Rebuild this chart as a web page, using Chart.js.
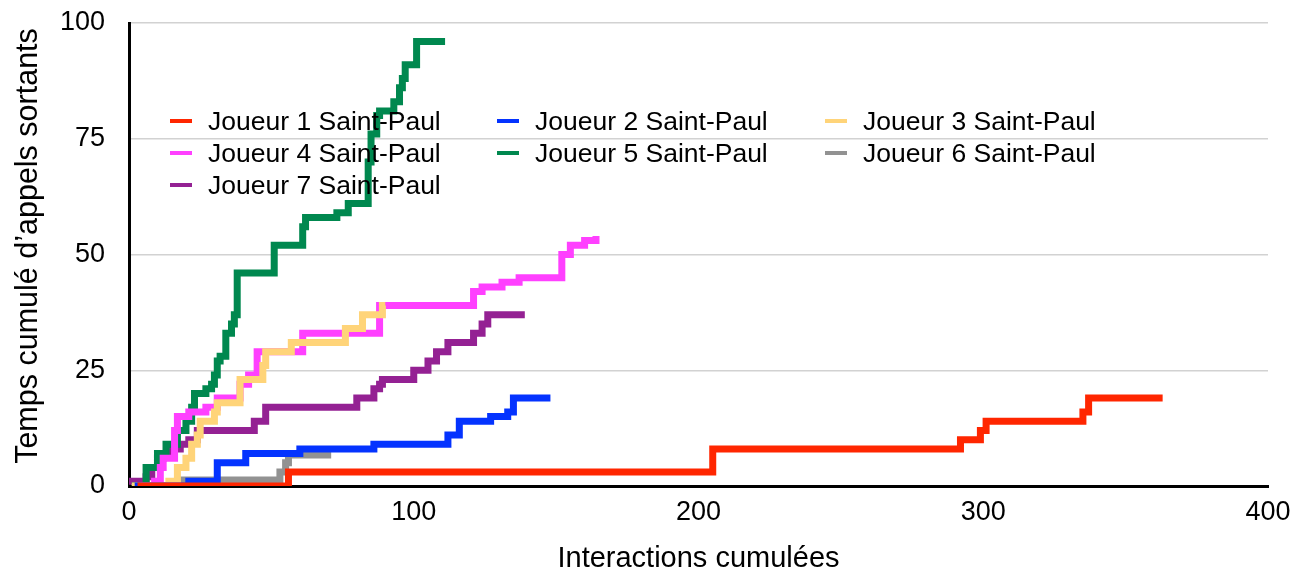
<!DOCTYPE html>
<html>
<head>
<meta charset="utf-8">
<script src="https://cdn.jsdelivr.net/npm/chart.js@4.4.1/dist/chart.umd.min.js"></script>
<style>
  html, body { margin: 0; padding: 0; background: #fff; }
  #wrap { width: 1291px; height: 573px; position: relative; }
</style>
</head>
<body>
<div id="wrap"><canvas id="c" width="1291" height="573"></canvas></div>
<script>
// ---- data (change points: at x the cumulative value becomes y) ----
const labels = ["Joueur 1 Saint-Paul", "Joueur 2 Saint-Paul", "Joueur 3 Saint-Paul",
                "Joueur 4 Saint-Paul", "Joueur 5 Saint-Paul", "Joueur 6 Saint-Paul",
                "Joueur 7 Saint-Paul"];

const j1X = [3, 56, 205, 292, 299, 301, 335, 337, 363];
const j1Y = [0, 3, 8, 10, 12, 14, 16, 19, 19];

const j2X = [2, 21, 31, 41, 60, 86, 112, 116, 127, 133, 135, 148];
const j2Y = [0, 1, 5, 7, 8, 9, 11, 14, 15, 16, 19, 19];

const j3X = [1, 14, 17, 20, 22, 24, 25, 30, 31, 39, 47, 48, 57, 76, 82, 89, 90];
const j3Y = [0, 1, 4, 6, 9, 11, 14, 16, 18, 23, 26, 29, 31, 34, 37, 39, 39];

const j4X = [4, 9, 11, 12, 16, 17, 21, 27, 31, 39, 42, 45, 61, 88, 121, 124, 131, 137, 152, 155, 160, 164];
const j4Y = [0, 1, 4, 6, 12, 15, 16, 17, 19, 22, 24, 29, 33, 39, 42, 43, 44, 45, 50, 52, 53, 54];

const j5X = [1, 6, 10, 13, 17, 20, 22, 23, 27, 29, 30, 31, 32, 34, 36, 37, 38, 51, 61, 62, 73, 77, 84, 85, 87, 88, 93, 95, 96, 97, 101, 111];
const j5Y = [0, 4, 7, 9, 12, 14, 17, 20, 21, 22, 24, 27, 28, 33, 35, 37, 46, 52, 56, 58, 59, 61, 70, 76, 80, 81, 83, 86, 88, 91, 96, 96];

const j6X = [1, 18, 53, 55, 56, 71];
const j6Y = [0, 1.3, 3, 5, 6.7, 6.7];

const j7X = [0, 6, 8, 10, 12, 15, 18, 21, 24, 44, 48, 80, 86, 88, 89, 100, 105, 108, 112, 121, 124, 126, 139];
const j7Y = [1, 2, 4, 6, 7, 8, 9, 10, 12, 14, 17, 19, 21, 22, 23, 25, 27, 29, 31, 33, 35, 37, 37];

const xTicks = [0, 100, 200, 300, 400];
const yTicks = [0, 25, 50, 75, 100];

const xTitle = 'Interactions cumulées';
const yTitle = 'Temps cumulé d’appels sortants';

const seriesX = [j1X, j2X, j3X, j4X, j5X, j6X, j7X];
const seriesY = [j1Y, j2Y, j3Y, j4Y, j5Y, j6Y, j7Y];
const colors = ["#FF2600", "#0433FF", "#FFD479", "#FF40FF", "#00884F", "#929292", "#942193"];

const FONT = "'Liberation Sans', Arial, Helvetica, sans-serif";

const datasets = labels.map((lab, i) => ({
  label: lab,
  data: seriesX[i].map((x, k) => ({ x: x, y: seriesY[i][k] })),
  borderColor: colors[i],
  backgroundColor: colors[i],
  borderWidth: 7,
  pointRadius: 0,
  pointHoverRadius: 0,
  stepped: true,
  fill: false,
  borderJoinStyle: 'miter',
  borderCapStyle: 'butt'
}));

const legendPlugin = {
  id: 'insideLegend',
  afterDatasetsDraw(chart) {
    const ctx = chart.ctx;
    const cols = [170, 497, 825];
    const rows = [122, 154, 186];
    ctx.save();
    ctx.font = "26.5px " + FONT;
    ctx.textBaseline = 'middle';
    ctx.textAlign = 'left';
    chart.data.datasets.forEach((ds, i) => {
      const cx = cols[i % 3];
      const cy = rows[Math.floor(i / 3)];
      ctx.fillStyle = ds.borderColor;
      ctx.fillRect(cx, cy - 3, 22, 4);
      ctx.fillStyle = '#000';
      ctx.fillText(ds.label, cx + 38, cy + 1);
    });
    // y-axis title
    ctx.font = "30.5px " + FONT;
    ctx.textAlign = 'center';
    ctx.translate(29, 246);
    ctx.rotate(-Math.PI / 2);
    ctx.fillText(yTitle, 0, 0);
    ctx.restore();
  }
};

new Chart(document.getElementById('c'), {
  type: 'line',
  data: { datasets: datasets },
  plugins: [legendPlugin],
  options: {
    responsive: false,
    animation: false,
    events: [],
    layout: { padding: { top: 23, right: 23, left: 0, bottom: 0 } },
    plugins: { legend: { display: false }, tooltip: { enabled: false } },
    scales: {
      x: {
        type: 'linear',
        min: 0, max: 400,
        afterBuildTicks(scale) { scale.ticks = xTicks.map(v => ({ value: v })); },
        afterFit(scale) { scale.height = 87; scale.paddingLeft = 0; scale.paddingRight = 0; },
        grid: { display: false, drawTicks: false },
        border: { display: true, color: '#000', width: 3 },
        ticks: { color: '#000', padding: 10, font: { family: FONT, size: 27 }, maxRotation: 0 },
        title: { display: true, text: xTitle, color: '#000',
                 font: { family: FONT, size: 29, lineHeight: 1 }, padding: { top: 0, bottom: 0 } }
      },
      y: {
        type: 'linear',
        min: 0, max: 100,
        afterBuildTicks(scale) { scale.ticks = yTicks.map(v => ({ value: v })); },
        afterFit(scale) { scale.width = 129; scale.paddingTop = 0; scale.paddingBottom = 0; },
        grid: { display: true, color: '#d2d2d2', lineWidth: 1.5, drawTicks: false },
        border: { display: true, color: '#000', width: 3 },
        ticks: { color: '#000', padding: 24, font: { family: FONT, size: 27 } },
        title: { display: false }
      }
    }
  }
});
</script>
</body>
</html>
